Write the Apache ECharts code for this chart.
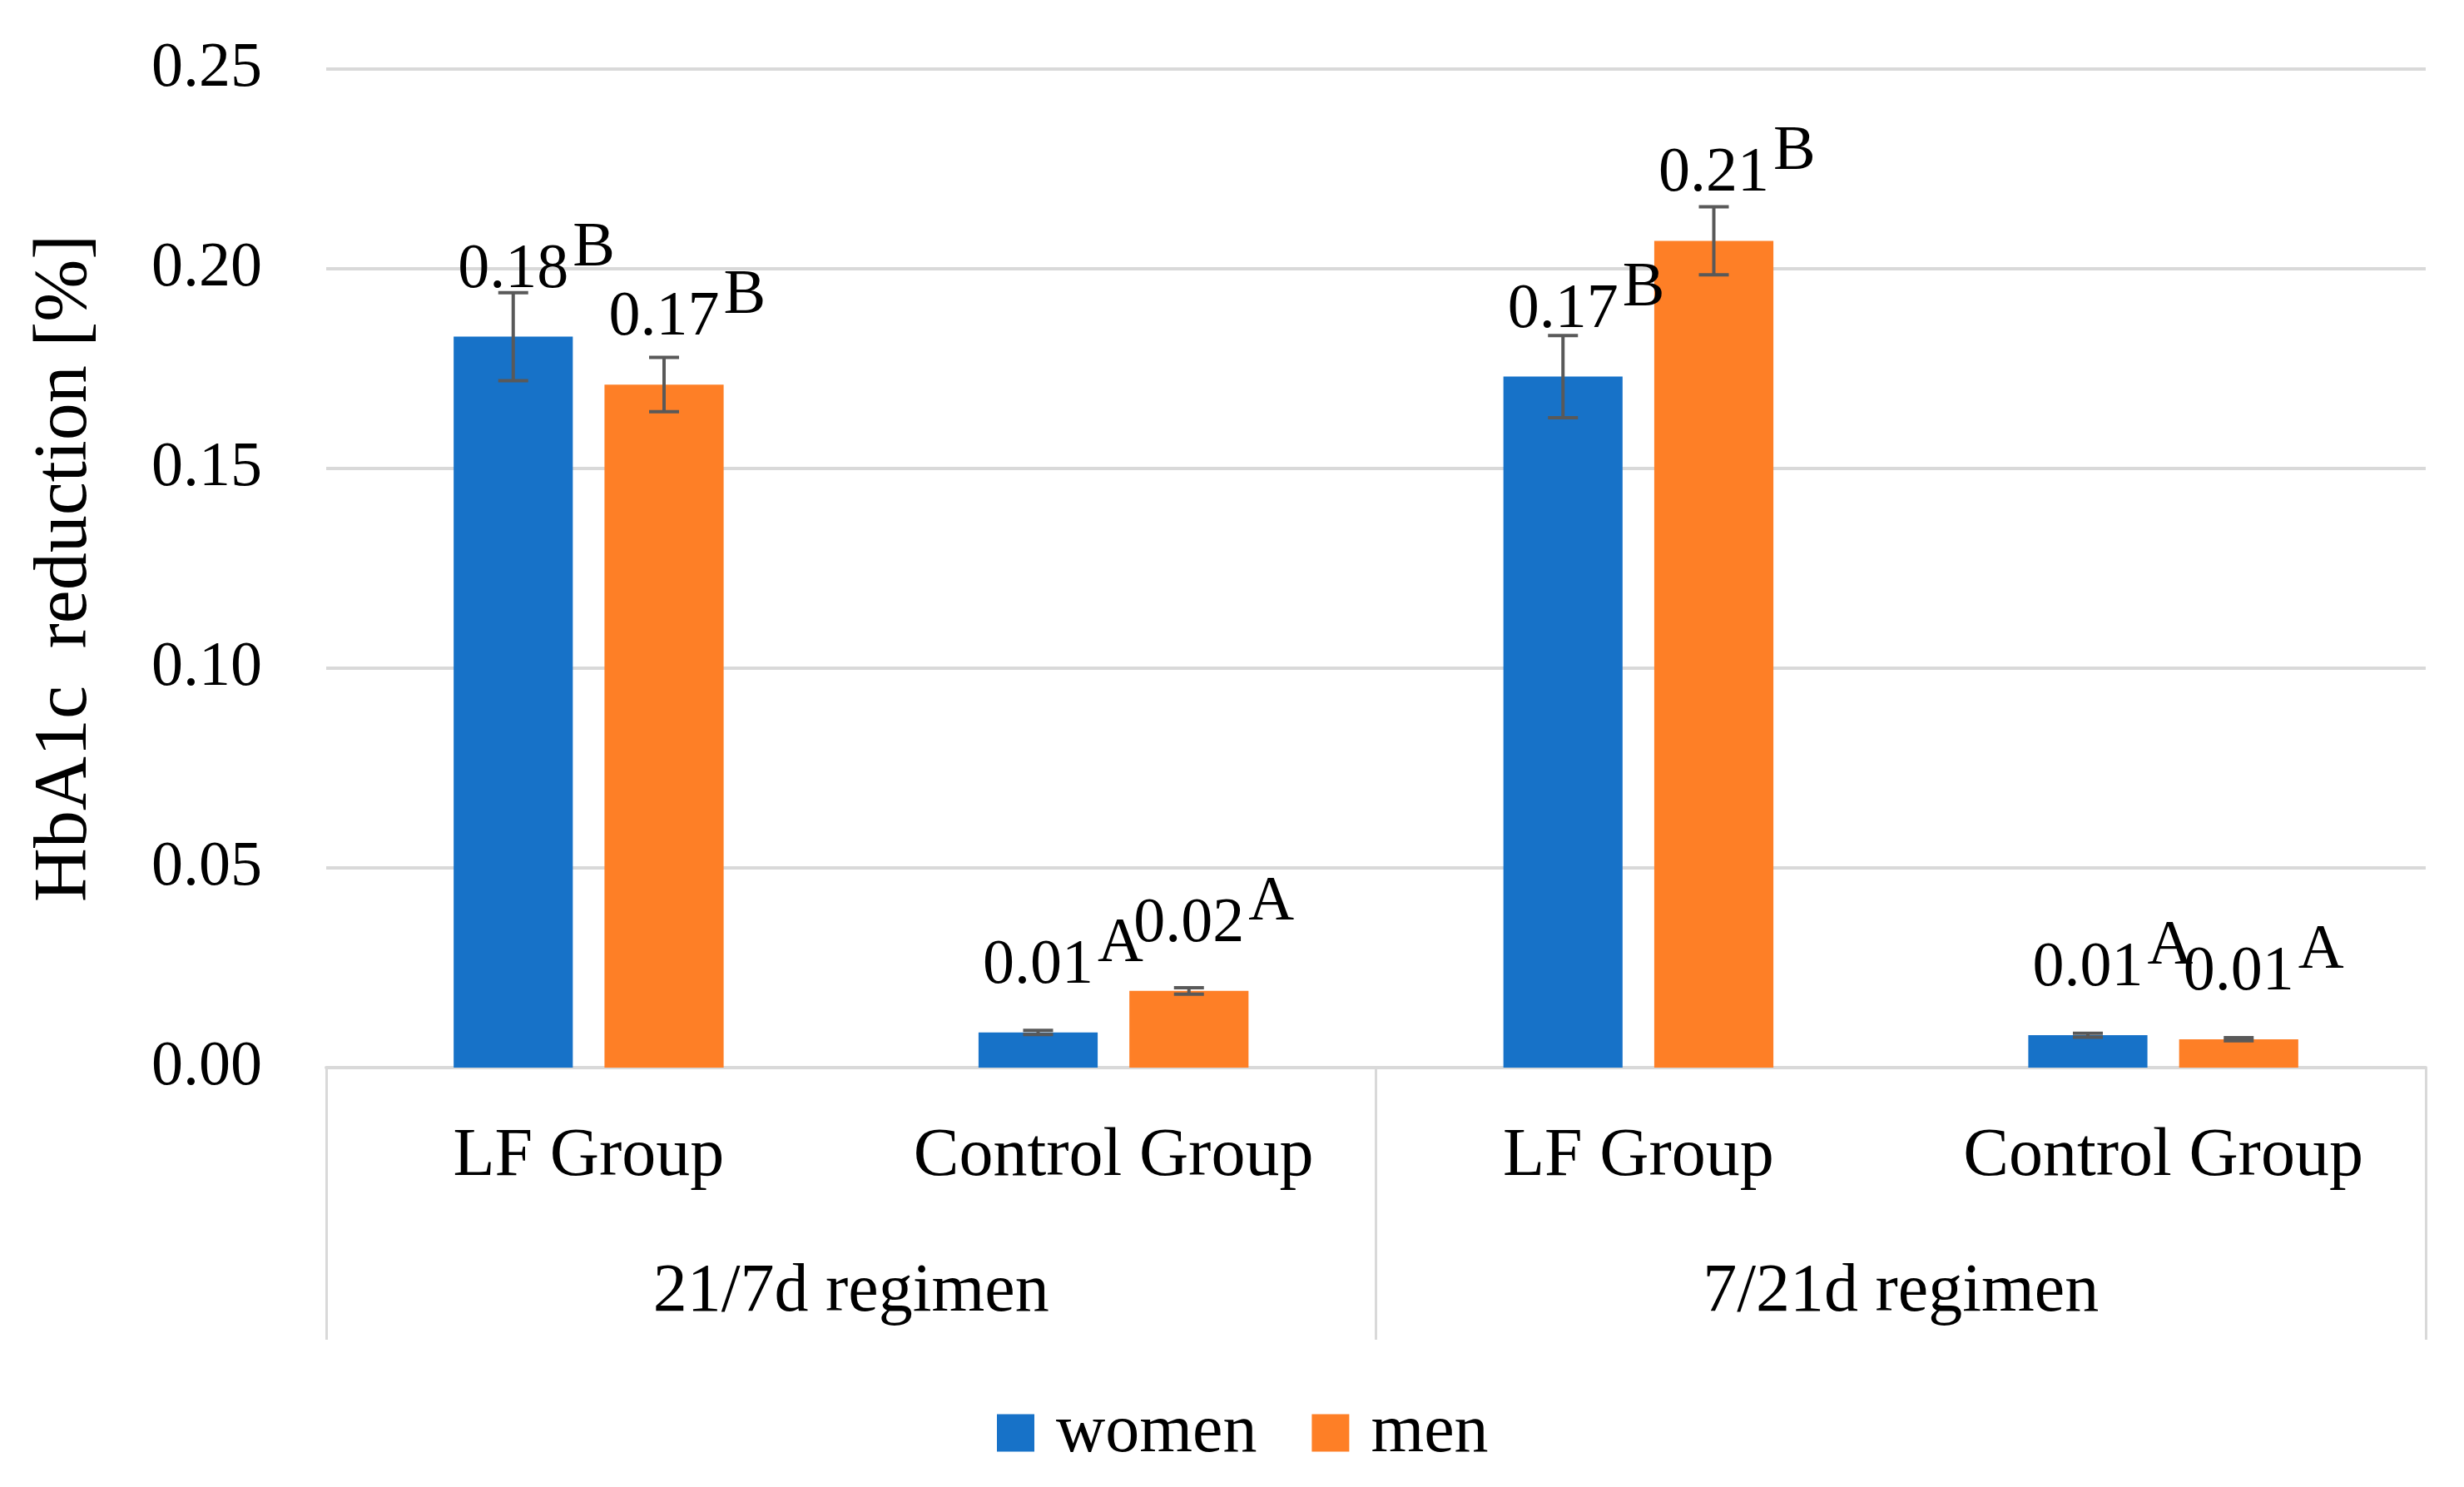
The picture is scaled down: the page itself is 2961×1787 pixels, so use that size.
<!DOCTYPE html>
<html>
<head>
<meta charset="utf-8">
<script src="https://cdn.jsdelivr.net/npm/echarts@6/dist/echarts.min.js"></script>
<style>
html,body{margin:0;padding:0;background:#fff;}
#chart{width:2961px;height:1787px;}
</style>
</head>
<body>
<div id="chart"></div>
<script>
const categories = ['LF Group', 'Control Group', 'LF Group', 'Control Group'];
const groups = ['21/7d regimen', '7/21d regimen'];
const seriesNames = ['women', 'men'];
const womenValues = [0.183, 0.0088, 0.173, 0.0081];
const menValues = [0.171, 0.0192, 0.207, 0.0071];
const womenErrors = [0.011, 0.0005, 0.0103, 0.0005];
const menErrors = [0.0068, 0.0008, 0.0085, 0.0004];
const womenLetters = ['B', 'A', 'B', 'A'];
const menLetters = ['B', 'A', 'B', 'A'];
const yTicks = [0, 0.05, 0.10, 0.15, 0.20, 0.25];

const FONT = 'Liberation Serif';
const BAR_W = 0.227, BAR_GAP = 0.266;
const colors = ['#1772C8', '#FE7F26'];

function errData(vals, errs) {
  return vals.map((v, i) => [i, v - errs[i], v + errs[i]]);
}

function errRender(sign) {
  return function (params, api) {
    const ci = api.value(0);
    const lo = api.coord([ci, api.value(1)]);
    const hi = api.coord([ci, api.value(2)]);
    const band = api.size([1, 0])[0];
    const x = lo[0] + sign * band * BAR_W * (1 + BAR_GAP) / 2;
    const hw = 18;
    const st = { stroke: '#595959', lineWidth: 4 };
    return {
      type: 'group',
      children: [
        { type: 'line', shape: { x1: x, y1: lo[1], x2: x, y2: hi[1] }, style: st },
        { type: 'line', shape: { x1: x - hw, y1: lo[1], x2: x + hw, y2: lo[1] }, style: st },
        { type: 'line', shape: { x1: x - hw, y1: hi[1], x2: x + hw, y2: hi[1] }, style: st }
      ]
    };
  };
}

function labelOpt(letters) {
  return {
    show: true,
    position: 'top',
    distance: 42,
    formatter: p => '{h|' + letters[p.dataIndex] + '}{v|' + p.value.toFixed(2) + '}{s|' + letters[p.dataIndex] + '}',
    rich: {
      v: { fontFamily: FONT, fontSize: 76, lineHeight: 76, color: '#000' },
      s: { fontFamily: FONT, fontSize: 76, lineHeight: 76, color: '#000', padding: [0, 0, 52, 5] },
      h: { fontFamily: FONT, fontSize: 76, lineHeight: 76, color: 'rgba(0,0,0,0)', padding: [0, 5, 52, 0] }
    }
  };
}

const chart = echarts.init(document.getElementById('chart'), null, { renderer: 'canvas' });
chart.setOption({
  animation: false,
  backgroundColor: '#fff',
  grid: { left: 392, right: 46, top: 83, bottom: 504, containLabel: false },
  legend: {
    data: seriesNames,
    left: 1193,
    top: 1676,
    itemWidth: 45,
    itemHeight: 45,
    itemGap: 66,
    icon: 'rect',
    textStyle: { fontFamily: FONT, fontSize: 82, color: '#000', padding: [0, 0, 0, 21] }
  },
  xAxis: [
    {
      type: 'category',
      data: categories,
      position: 'bottom',
      axisLine: { show: true, lineStyle: { color: '#D9D9D9', width: 4 } },
      axisTick: { show: false },
      axisLabel: { fontFamily: FONT, fontSize: 82, lineHeight: 82, color: '#000', margin: 66, interval: 0 },
      splitLine: { show: false }
    },
    {
      type: 'category',
      data: groups,
      position: 'bottom',
      axisLine: { show: false },
      axisTick: { show: true, length: 327, lineStyle: { color: '#D9D9D9', width: 3 } },
      axisLabel: { fontFamily: FONT, fontSize: 82, lineHeight: 82, color: '#000', margin: 229, interval: 0 },
      splitLine: { show: false }
    }
  ],
  yAxis: {
    type: 'value',
    min: yTicks[0],
    max: yTicks[yTicks.length - 1],
    interval: 0.05,
    name: 'HbA1c  reduction [%]',
    nameLocation: 'middle',
    nameRotate: 90,
    nameGap: 268,
    nameTextStyle: { fontFamily: FONT, fontSize: 90, color: '#000' },
    axisLine: { show: false },
    axisTick: { show: false },
    axisLabel: { fontFamily: FONT, fontSize: 76, color: '#000', margin: 77, formatter: v => v.toFixed(2) },
    splitLine: { show: true, lineStyle: { color: '#D9D9D9', width: 4 } }
  },
  series: [
    {
      name: seriesNames[0],
      type: 'bar',
      data: womenValues,
      barWidth: (BAR_W * 100) + '%',
      barGap: (BAR_GAP * 100) + '%',
      itemStyle: { color: colors[0] },
      label: labelOpt(womenLetters),
      z: 2
    },
    {
      name: seriesNames[1],
      type: 'bar',
      data: menValues,
      barWidth: (BAR_W * 100) + '%',
      barGap: (BAR_GAP * 100) + '%',
      itemStyle: { color: colors[1] },
      label: labelOpt(menLetters),
      z: 2
    },
    {
      type: 'custom',
      name: 'womenErr',
      data: errData(womenValues, womenErrors),
      encode: { x: 0, y: [1, 2] },
      renderItem: errRender(-1),
      z: 3,
      silent: true
    },
    {
      type: 'custom',
      name: 'menErr',
      data: errData(menValues, menErrors),
      encode: { x: 0, y: [1, 2] },
      renderItem: errRender(1),
      z: 3,
      silent: true
    }
  ]
});
</script>
</body>
</html>
